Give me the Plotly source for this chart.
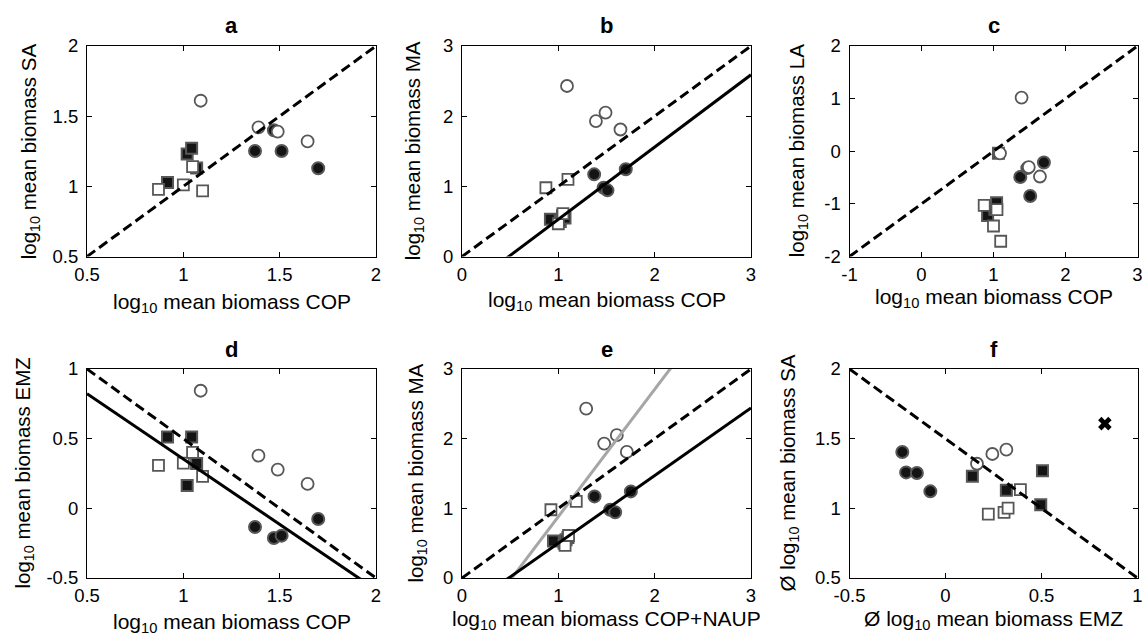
import numpy as np
import plotly.graph_objects as go

W, H = 1142, 641
FONT = "Liberation Sans, Arial, Helvetica, sans-serif"

# ---------------- data ----------------
# groups: oc = open circles, fc = filled circles, os = open squares, fs = filled squares
cop_oc = [1.09, 1.39, 1.49, 1.645]
cop_fc = [1.372, 1.47, 1.51, 1.70]
cop_os = [0.871, 1.00, 1.048, 1.10]
cop_fs = [0.918, 1.02, 1.043, 1.069]

sa_oc = [1.61, 1.42, 1.39, 1.32]
sa_fc = [1.252, 1.40, 1.252, 1.129]
sa_os = [0.979, 1.010, 1.141, 0.968]
sa_fs = [1.027, 1.231, 1.271, 1.13]

ma_oc = [2.43, 1.93, 2.05, 1.81]
ma_fc = [1.171, 0.98, 0.943, 1.243]
ma_os = [0.98, 0.467, 0.61, 1.10]
ma_fs = [0.53, 0.50, 0.58, 0.55]

la_oc = [-0.04, 1.02, -0.30, -0.48]
la_fc = [-0.49, -0.32, -0.85, -0.215]
la_os = [-1.03, -1.42, -1.11, -1.71]
la_fs = [-1.22, -1.10, -0.98, -0.04]

emz_oc = [0.844, 0.378, 0.278, 0.175]
emz_fc = [-0.134, -0.213, -0.196, -0.077]
emz_os = [0.309, 0.325, 0.402, 0.23]
emz_fs = [0.512, 0.163, 0.512, 0.321]

copnaup_oc = [1.289, 1.476, 1.607, 1.711]
copnaup_fc = [1.376, 1.538, 1.59, 1.753]
copnaup_os = [0.923, 1.07, 1.106, 1.186]
copnaup_fs = [0.95, 1.06, 1.10, 1.08]

# panel f: averaged values
emzm_oc = [0.164, 0.244, 0.317]
sam_oc = [1.32, 1.39, 1.421]
emzm_fc = [-0.225, -0.205, -0.149, -0.079]
sam_fc = [1.404, 1.258, 1.254, 1.122]
emzm_os = [0.223, 0.305, 0.326, 0.39]
sam_os = [0.959, 0.971, 1.002, 1.134]
emzm_fs = [0.14, 0.317, 0.505, 0.496]
sam_fs = [1.23, 1.129, 1.27, 1.026]
emzm_out = [0.83]
sam_out = [1.608]

# reference / fitted lines: (slope, intercept)
line_a_ref = (1.0, 0.0)
line_b_ref = (1.0, 0.0)
line_b_fit = (1.03, -0.50)
line_c_ref = (1.0, -1.0)
line_d_ref = (-1.0, 1.5)
line_d_fit = (-0.938, 1.292)
line_e_ref = (1.0, 0.0)
line_e_fit = (0.97, -0.47)
line_e_fit2 = (1.827, -0.946)
line_f_ref = (-1.0, 1.5)

# axis ticks
ticks_a = [0.5, 1, 1.5, 2]
labels_a = ["0.5", "1", "1.5", "2"]
ticks_03 = [0, 1, 2, 3]
labels_03 = ["0", "1", "2", "3"]
ticks_cx = [-1, 0, 1, 2, 3]
labels_cx = ["-1", "0", "1", "2", "3"]
ticks_cy = [-2, -1, 0, 1, 2]
labels_cy = ["-2", "-1", "0", "1", "2"]
ticks_dy = [-0.5, 0, 0.5, 1]
labels_dy = ["-0.5", "0", "0.5", "1"]
ticks_fx = [-0.5, 0, 0.5, 1]
labels_fx = ["-0.5", "0", "0.5", "1"]

# ---------------- layout geometry (pixels) ----------------
cols_px = [(87, 376), (462, 751), (849.5, 1137.5)]
rows_px = [(46, 256.5), (369, 578)]


def px_x(p):
    return p / W


def px_y(p):
    return 1 - p / H


panels = [
    dict(t="a", r=0, c=0, xr=[0.5, 2], yr=[0.5, 2], xt=(ticks_a, labels_a), yt=(ticks_a, labels_a),
         xl="log<sub>10</sub> mean biomass COP", yl="log<sub>10</sub> mean biomass SA",
         groups=[(cop_fs, sa_fs), (cop_fc, sa_fc), (cop_os, sa_os), (cop_oc, sa_oc)],
         lines=[(line_a_ref, "dash", "black")], xly=300, ylx=27),
    dict(t="b", r=0, c=1, xr=[0, 3], yr=[0, 3], xt=(ticks_03, labels_03), yt=(ticks_03, labels_03),
         xl="log<sub>10</sub> mean biomass COP", yl="log<sub>10</sub> mean biomass MA",
         groups=[(cop_fs, ma_fs), (cop_fc, ma_fc), (cop_os, ma_os), (cop_oc, ma_oc)],
         lines=[(line_b_ref, "dash", "black"), (line_b_fit, "solid", "black")], xly=298, ylx=411),
    dict(t="c", r=0, c=2, xr=[-1, 3], yr=[-2, 2], xt=(ticks_cx, labels_cx), yt=(ticks_cy, labels_cy),
         xl="log<sub>10</sub> mean biomass COP", yl="log<sub>10</sub> mean biomass LA",
         groups=[(cop_fs, la_fs), (cop_fc, la_fc), (cop_os, la_os), (cop_oc, la_oc)],
         lines=[(line_c_ref, "dash", "black")], xly=294.5, ylx=795),
    dict(t="d", r=1, c=0, xr=[0.5, 2], yr=[-0.5, 1], xt=(ticks_a, labels_a), yt=(ticks_dy, labels_dy),
         xl="log<sub>10</sub> mean biomass COP", yl="log<sub>10</sub> mean biomass EMZ",
         groups=[(cop_fs, emz_fs), (cop_fc, emz_fc), (cop_os, emz_os), (cop_oc, emz_oc)],
         lines=[(line_d_ref, "dash", "black"), (line_d_fit, "solid", "black")], xly=620, ylx=20),
    dict(t="e", r=1, c=1, xr=[0, 3], yr=[0, 3], xt=(ticks_03, labels_03), yt=(ticks_03, labels_03),
         xl="log<sub>10</sub> mean biomass COP+NAUP", yl="log<sub>10</sub> mean biomass MA",
         groups=[(copnaup_fs, ma_fs), (copnaup_fc, ma_fc), (copnaup_os, ma_os), (copnaup_oc, ma_oc)],
         lines=[(line_e_fit2, "solid", "#a6a6a6"), (line_e_ref, "dash", "black"), (line_e_fit, "solid", "black")],
         xly=617, ylx=413),
    dict(t="f", r=1, c=2, xr=[-0.5, 1], yr=[0.5, 2], xt=(ticks_fx, labels_fx), yt=(ticks_a, labels_a),
         xl="Ø log<sub>10</sub> mean biomass EMZ", yl="Ø log<sub>10</sub> mean biomass SA",
         groups=[(emzm_fs, sam_fs), (emzm_fc, sam_fc), (emzm_os, sam_os), (emzm_oc, sam_oc)],
         lines=[(line_f_ref, "dash", "black")], xly=617, ylx=785, outlier=(emzm_out, sam_out)),
]

EDGE = "#575757"
styles = [
    dict(symbol="square", size=11, color="#141414", line=dict(color=EDGE, width=2)),
    dict(symbol="circle", size=12, color="#141414", line=dict(color=EDGE, width=2)),
    dict(symbol="square", size=11, color="white", line=dict(color=EDGE, width=1.8)),
    dict(symbol="circle", size=12, color="white", line=dict(color=EDGE, width=1.8)),
]

fig = go.Figure()
annotations = []
layout_axes = {}

for i, p in enumerate(panels, start=1):
    xa = "x" if i == 1 else f"x{i}"
    ya = "y" if i == 1 else f"y{i}"
    x0, x1 = cols_px[p["c"]]
    y0, y1 = rows_px[p["r"]]
    common = dict(showline=True, linecolor="black", linewidth=1, mirror="ticks", ticks="inside",
                  ticklen=5, tickcolor="black", tickwidth=1, showgrid=False, zeroline=False,
                  tickfont=dict(size=18.5, color="black", family=FONT), fixedrange=True,
                  automargin=False, ticklabeloverflow="allow")
    layout_axes["xaxis" if i == 1 else f"xaxis{i}"] = dict(
        common, domain=[px_x(x0), px_x(x1)], range=p["xr"], anchor=ya,
        tickmode="array", tickvals=p["xt"][0], ticktext=p["xt"][1], ticklabelstandoff=1)
    layout_axes["yaxis" if i == 1 else f"yaxis{i}"] = dict(
        common, domain=[px_y(y1), px_y(y0)], range=p["yr"], anchor=xa,
        tickmode="array", tickvals=p["yt"][0], ticktext=p["yt"][1], ticklabelstandoff=4)

    for (gx, gy), st in zip(p["groups"], styles):
        fig.add_trace(go.Scatter(x=gx, y=gy, mode="markers", xaxis=xa, yaxis=ya,
                                 marker=st, showlegend=False, cliponaxis=False))
    if "outlier" in p:
        ox, oy = p["outlier"]
        fig.add_trace(go.Scatter(x=ox, y=oy, mode="markers", xaxis=xa, yaxis=ya,
                                 marker=dict(symbol="x", size=12, color="black", line=dict(width=0)),
                                 showlegend=False))
    xs = np.linspace(p["xr"][0], p["xr"][1], 50)
    for (m, b), dash, col in p["lines"]:
        fig.add_trace(go.Scatter(x=xs, y=m * xs + b, mode="lines", xaxis=xa, yaxis=ya,
                                 line=dict(color=col, width=3, dash="10px,5px" if dash == "dash" else "solid"),
                                 showlegend=False, hoverinfo="skip"))

    cx = (x0 + x1) / 2
    cy = (y0 + y1) / 2
    annotations.append(dict(text=f"<b>{p['t']}</b>", x=px_x(cx), y=px_y(y0 - 20), xref="paper", yref="paper",
                            xanchor="center", yanchor="middle", showarrow=False,
                            font=dict(size=22, color="black", family=FONT)))
    annotations.append(dict(text=p["xl"], x=px_x(cx), y=px_y(p["xly"] + 3), xref="paper", yref="paper",
                            xanchor="center", yanchor="middle", showarrow=False,
                            font=dict(size=21, color="black", family=FONT)))
    annotations.append(dict(text=p["yl"], x=px_x(p["ylx"] + 3), y=px_y(cy), xref="paper", yref="paper",
                            xanchor="center", yanchor="middle", showarrow=False, textangle=-90,
                            font=dict(size=20.5, color="black", family=FONT)))

fig.update_layout(
    width=W, height=H, margin=dict(l=0, r=0, t=0, b=0, pad=0, autoexpand=False),
    paper_bgcolor="white", plot_bgcolor="white",
    font=dict(family=FONT, color="black"),
    annotations=annotations, showlegend=False,
    **layout_axes,
)

fig.write_html("out.html", config={"displayModeBar": False},
               post_script="document.body.style.margin='0';")
